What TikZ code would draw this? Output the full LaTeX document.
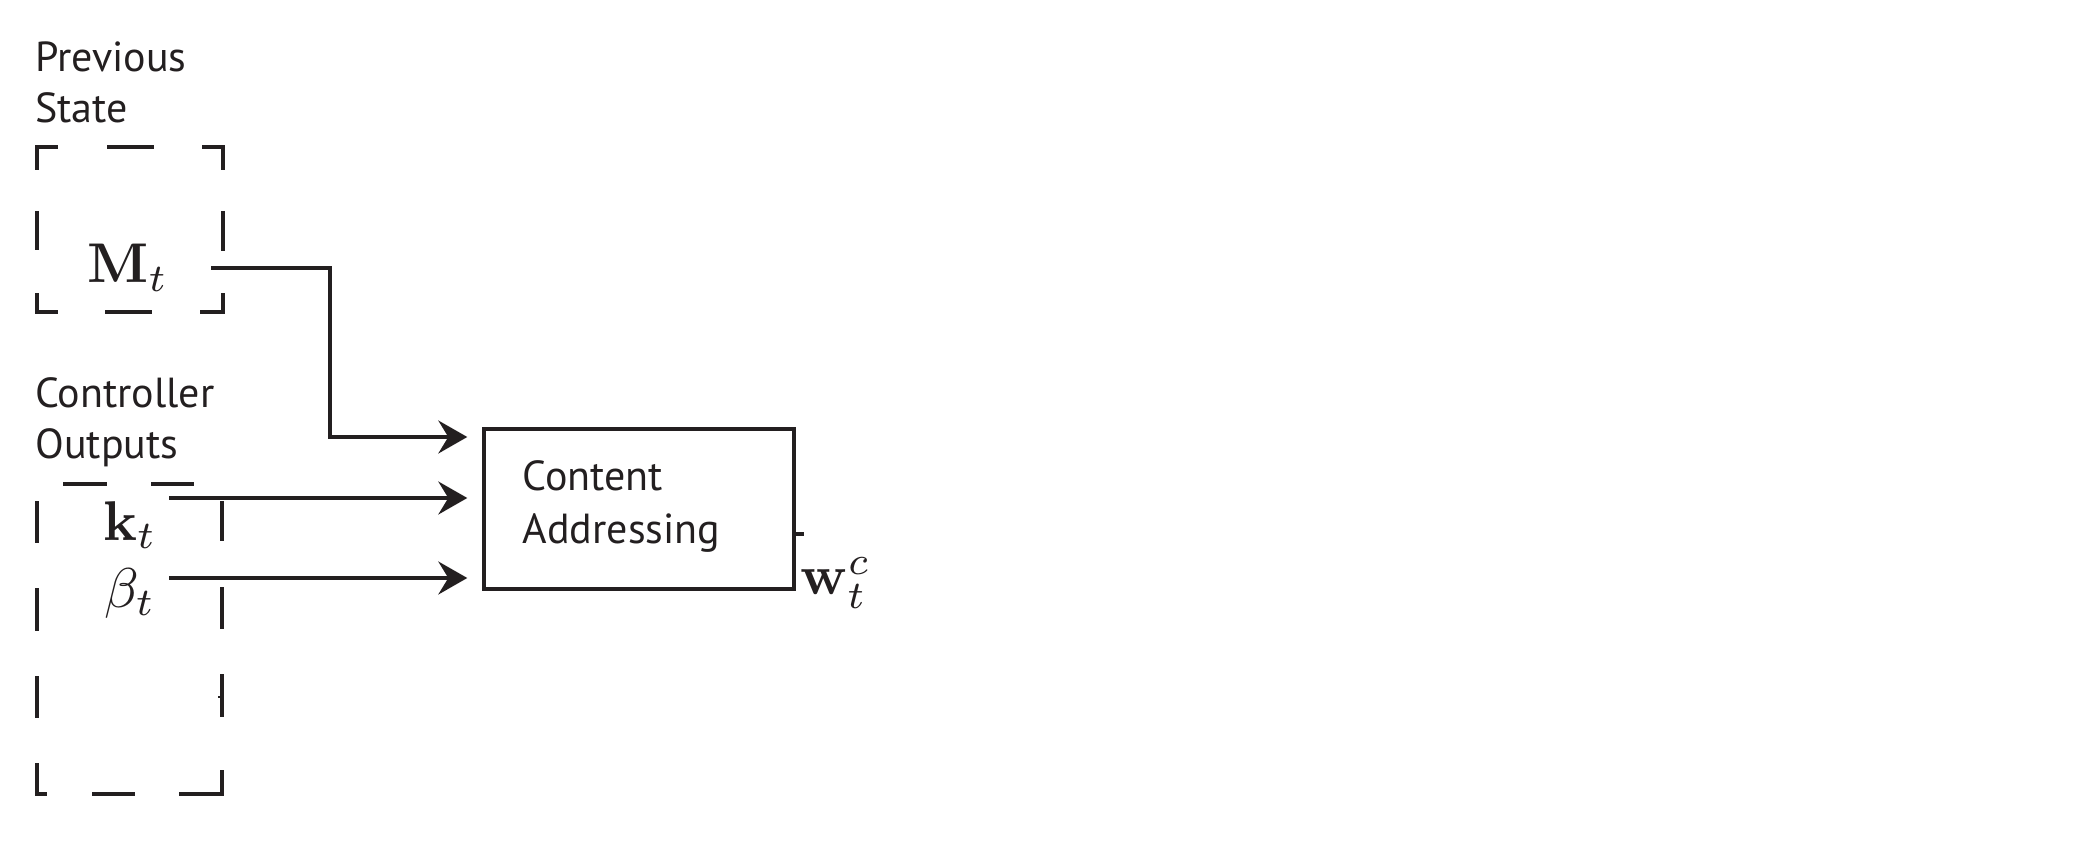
\documentclass[tikz,border=0pt]{standalone}
\usepackage[no-math]{fontspec}
\setmainfont{PT Sans}
\usetikzlibrary{arrows.meta,calc}
\definecolor{ink}{RGB}{35,31,32}
\begin{document}
\begin{tikzpicture}[x=0.5pt,y=-0.5pt,color=ink,
  lbl/.style={font=\fontsize{21}{25.5}\selectfont, align=left, inner sep=0pt, anchor=base west},
  blocktext/.style={font=\fontsize{21}{26.5}\selectfont, align=left, inner sep=0pt, anchor=base west},
  mathlbl/.style={scale=2.8, inner sep=0pt},
  dashbox/.style={line width=1.7pt, line cap=butt, line join=miter},
  conn/.style={line width=1.6pt, -{Stealth[length=14.5pt,width=16.5pt,inset=5pt]}, shorten >=7.5pt},
  block/.style={draw, line width=1.7pt, minimum width=155pt, minimum height=80pt, inner sep=0pt}]
\useasboundingbox (0,0) rectangle (2087,850);

% labels (base anchor = baseline of the last line)
\node[lbl] (prev) at (35,123) {Previous\\State};
\node[lbl] (ctrl) at (35,458) {Controller\\Outputs};

% dashed box: previous state
\draw[dashbox] (37,170) -- (37,147) -- (58,147)
  (107,147) -- (154,147)
  (202,147) -- (223,147) -- (223,170)
  (37,211) -- (37,250)
  (223,211) -- (223,251)
  (37,293) -- (37,312) -- (58,312)
  (105,312) -- (152,312)
  (200,312) -- (223,312) -- (223,293);

% dashed box: controller outputs
\draw[dashbox] (63,484) -- (107,484)
  (151,484) -- (194,484)
  (37,501) -- (37,543)
  (37,588) -- (37,631)
  (37,676) -- (37,718)
  (37,763) -- (37,794) -- (47,794)
  (92,794) -- (135,794)
  (179,794) -- (222,794) -- (222,770)
  (222,501) -- (222,541)
  (222,587) -- (222,629)
  (222,674) -- (222,717);
\draw[line width=0.8pt] (218,697) -- (222,697);

% math labels
\node[mathlbl, anchor=base] (Mt) at (128,283) {$\mathbf{M}_t$};
\node[mathlbl, anchor=base] (kt) at (130,540) {$\mathbf{k}_t$};
\node[mathlbl, anchor=base] (bt) at (130,607) {$\beta_t$};

% content addressing block
\node[block] (ca) at (639,509) {};
\node[blocktext] (catext) at ($(ca.west)+(40,34)$) {Content\\Addressing};

% connectors
\coordinate (mOut) at (211,268);
\coordinate (mBend) at (330,268);
\coordinate (kOut) at (169,498);
\coordinate (bOut) at (169,578);
\draw[conn] (mOut) -- (mBend) -- (mBend |- {$(ca.west)+(0,-72)$}) -- ($(ca.west)+(0,-72)$);
\draw[conn] (kOut) -- (kOut -| ca.west);
\draw[conn] (bOut) -- (bOut -| ca.west);

% output stub and label
\draw[line width=1.6pt] ($(ca.east)+(0,25)$) coordinate (tick) -- ++(8,0);
\node[mathlbl, anchor=base west] (wc) at ($(ca.south east)+(4,4)$) {$\mathbf{w}_t^c$};
\end{tikzpicture}
\end{document}
